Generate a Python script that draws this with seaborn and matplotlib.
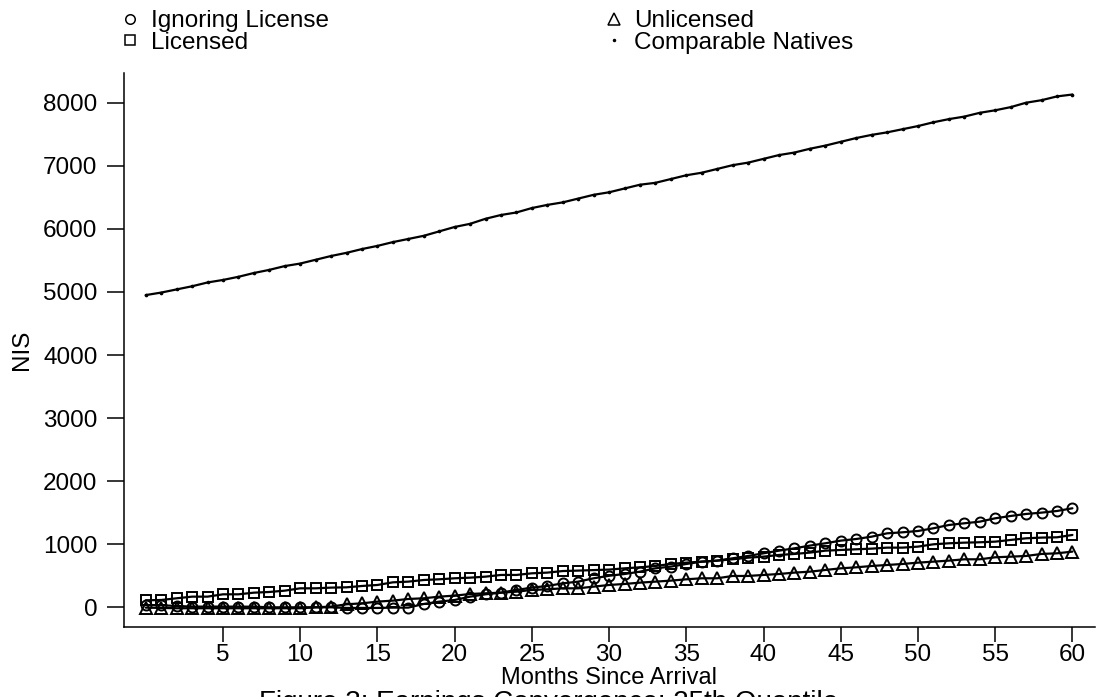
import matplotlib
matplotlib.use("Agg")
import matplotlib.pyplot as plt
from matplotlib.lines import Line2D
import pandas as pd
import seaborn as sns

# data (months 0..60)
months = list(range(61))

ignoring_license = [37, 32, 21, 11, 11, 11, 10, 10, 0, 0,
                    0, 0, 0, -10, -10, -10, -5, -5, 53, 90,
                    116, 169, 206, 232, 275, 312, 338, 380, 407, 460,
                    500, 528, 565, 618, 645, 687, 724, 740, 777, 814,
                    856, 898, 935, 978, 1015, 1057, 1083, 1120, 1173, 1189,
                    1210, 1253, 1305, 1332, 1358, 1411, 1448, 1480, 1501, 1527,
                    1570]

licensed = [111, 116, 143, 169, 169, 206, 206, 232, 243, 264,
            301, 301, 312, 317, 338, 354, 396, 407, 433, 444,
            460, 470, 486, 513, 513, 539, 550, 575, 582, 590,
            598, 618, 634, 655, 687, 708, 724, 740, 761, 787,
            803, 830, 846, 867, 898, 909, 920, 930, 946, 946,
            962, 999, 1015, 1025, 1031, 1041, 1068, 1094, 1105, 1110,
            1147]

unlicensed = [-5, -10, -15, -15, -15, -15, -15, -15, -15, -15,
              -15, 0, 11, 48, 63, 90, 106, 132, 143, 169,
              185, 211, 222, 232, 248, 275, 285, 301, 301, 328,
              354, 370, 391, 407, 423, 444, 460, 460, 497, 497,
              513, 528, 550, 565, 592, 618, 634, 655, 671, 687,
              708, 724, 740, 761, 761, 793, 803, 814, 846, 856,
              883]

natives = [4950, 4990, 5040, 5090, 5150, 5190, 5240, 5300, 5350, 5410,
           5450, 5510, 5570, 5620, 5680, 5730, 5790, 5840, 5890, 5960,
           6030, 6080, 6160, 6220, 6260, 6330, 6380, 6420, 6480, 6540,
           6580, 6640, 6700, 6730, 6790, 6850, 6890, 6950, 7010, 7050,
           7110, 7170, 7210, 7270, 7320, 7380, 7440, 7490, 7530, 7580,
           7630, 7690, 7740, 7780, 7840, 7880, 7930, 8000, 8040, 8100,
           8130]

x_ticks = [5, 10, 15, 20, 25, 30, 35, 40, 45, 50, 55, 60]
y_ticks = [0, 1000, 2000, 3000, 4000, 5000, 6000, 7000, 8000]

series = [
    ("Ignoring License", ignoring_license, "o", 7.2),
    ("Licensed", licensed, "s", 7.6),
    ("Unlicensed", unlicensed, "^", 8.6),
    ("Comparable Natives", natives, ".", 2.5),
]

sns.set_style("ticks")
plt.rcParams["font.family"] = ["Liberation Sans", "DejaVu Sans"]
plt.rcParams["text.color"] = "black"
plt.rcParams["axes.labelcolor"] = "black"
plt.rcParams["xtick.color"] = "black"
plt.rcParams["ytick.color"] = "black"

fig = plt.figure(figsize=(10.97, 6.97), dpi=100)
ax = fig.add_axes([0.113, 0.100, 0.885, 0.7957])

for name, vals, mk, ms in series:
    df = pd.DataFrame({"month": months, "nis": vals})
    sns.lineplot(data=df, x="month", y="nis", ax=ax, color="black",
                 linewidth=1.6, marker=mk, markersize=ms,
                 markerfacecolor="none", markeredgecolor="black",
                 markeredgewidth=1.4, legend=False)

ax.set_xlim(-1.41, 61.45)
ax.set_ylim(-317, 8476)
ax.set_xticks(x_ticks)
ax.set_yticks(y_ticks)
ax.tick_params(axis="y", length=12, width=1.1, pad=7, labelsize=17.5)
ax.tick_params(axis="x", length=11, width=1.1, pad=1, labelsize=17.5)
for s in ["top", "right"]:
    ax.spines[s].set_visible(False)
for s in ["left", "bottom"]:
    ax.spines[s].set_linewidth(1.1)
    ax.spines[s].set_color("black")

ax.set_xlabel("Months Since Arrival", fontsize=17)
ax.set_ylabel("NIS", fontsize=17.5)
ax.xaxis.set_label_coords(0.5, -0.072)
ax.yaxis.set_label_coords(-0.094, 0.5)

# legend: markers only, two columns above the plot
handles = []
for name, vals, mk, ms in series:
    if mk == ".":
        h = Line2D([], [], linestyle="none", marker=".", markersize=3,
                   color="black", label=name)
    else:
        h = Line2D([], [], linestyle="none", marker=mk, markersize=ms * 0.95,
                   markerfacecolor="none", markeredgecolor="black",
                   markeredgewidth=1.1, label=name)
    handles.append(h)
fig.legend(handles=handles, ncol=2, loc="upper left",
           bbox_to_anchor=(0.1118, 0.985), frameon=False, fontsize=17.5,
           handlelength=0.6, handletextpad=0.55, columnspacing=11.43,
           labelspacing=-0.04, borderaxespad=0, borderpad=0)

fig.text(0.5, 1 - 690 / 697, "Figure 3: Earnings Convergence: 25th Quantile",
         ha="center", va="top", fontsize=20)

fig.savefig("out.png", dpi=100)
